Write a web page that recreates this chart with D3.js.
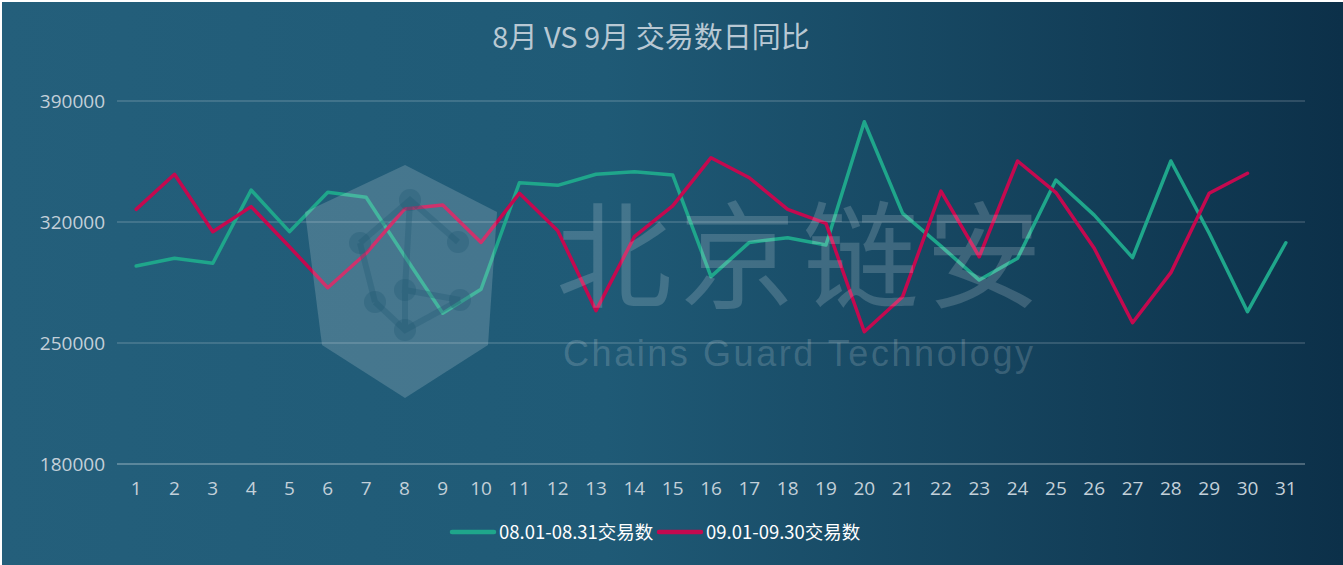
<!DOCTYPE html>
<html><head><meta charset="utf-8">
<script src="https://cdn.jsdelivr.net/npm/d3@7"></script>
<style>
html,body{margin:0;padding:0;background:#fff;overflow:hidden}
svg{position:absolute;left:2px;top:2px}
</style></head>
<body>
<script>
const title = "8月 VS 9月 交易数日同比";
const days = d3.range(1, 32).map(String);
const seriesNames = ["08.01-08.31交易数", "09.01-09.30交易数"];
const augValues = [294500,299000,296100,338500,314400,337200,334300,300500,267200,281100,
  342700,341200,347600,349100,347200,288400,308200,310900,306700,378000,
  325000,306000,286400,299000,344300,324000,299400,355300,313500,268100,308000];
const sepValues = [327300,347600,314400,328900,305700,282000,301900,327500,329800,308200,
  336600,315000,268700,311500,329300,357200,345600,327300,319200,256500,
  276800,337900,299900,355300,337000,304800,261700,290700,336600,348200];
const yTicks = [180000,250000,320000,390000];
const colors = ["#1fa68b", "#c4094f"];

const W = 1341, H = 563;
const svg = d3.select("body").append("svg").attr("width", W).attr("height", H);
const defs = svg.append("defs");
const grad = defs.append("linearGradient").attr("id","bg").attr("x1","0").attr("x2","1").attr("y1","0").attr("y2","0");
grad.append("stop").attr("offset","0%").attr("stop-color","#245f7b");
grad.append("stop").attr("offset","45%").attr("stop-color","#1f5a76");
grad.append("stop").attr("offset","100%").attr("stop-color","#0c3049");
svg.append("rect").attr("width",W).attr("height",H).attr("fill","url(#bg)");

const ox = -2, oy = -2;
const g = svg.append("g").attr("transform",`translate(${ox},${oy})`);

const x = d3.scaleBand().domain(days).range([117, 1305]);
const y = d3.scaleLinear().domain([180000, 390000]).range([464, 101]);

g.selectAll(".grid").data(yTicks).join("line")
  .attr("x1",117).attr("x2",1305)
  .attr("y1",d=>y(d)).attr("y2",d=>y(d))
  .attr("stroke", d => d===180000 ? "rgba(255,255,255,0.26)" : "rgba(255,255,255,0.14)")
  .attr("stroke-width", 2);

g.selectAll(".yl").data(yTicks).join("text")
  .attr("x",105).attr("y",d=>y(d)+6.5)
  .attr("text-anchor","end")
  .attr("font-family","Open Sans, sans-serif").attr("font-size",19)
  .attr("fill","#c3d0d9").text(d=>d);

g.selectAll(".xl").data(days).join("text")
  .attr("x",d=>x(d)+x.bandwidth()/2).attr("y",495)
  .attr("text-anchor","middle")
  .attr("font-family","Open Sans, sans-serif").attr("font-size",19)
  .attr("fill","#c3d0d9").text(d=>d);

const line = d3.line().x((d,i)=>x(days[i])+x.bandwidth()/2).y(d=>y(d));
[augValues, sepValues].forEach((vals,i)=>{
  g.append("path").datum(vals).attr("d",line)
    .attr("fill","none").attr("stroke",colors[i]).attr("stroke-width",3.5)
    .attr("stroke-linejoin","round").attr("stroke-linecap","round");
});

// watermark
const wm = g.append("g").attr("fill","#ffffff").attr("fill-opacity",0.17);
wm.append("path").attr("d","M305,212 L405,165 L497,212 L488,345 L405,398 L322,345 Z");
const holes = g.append("g").attr("fill","#1d5672").attr("fill-opacity",0.3).attr("stroke","#1d5672").attr("stroke-opacity",0.3);
[[360,243],[410,200],[458,242],[375,302],[405,290],[405,330],[460,300]].forEach(p=>{
  holes.append("circle").attr("cx",p[0]).attr("cy",p[1]).attr("r",11).attr("stroke","none");
});
holes.append("path").attr("fill","none").attr("stroke-width",6)
  .attr("d","M360,243 L410,200 L458,242 M410,200 L405,290 L460,300 M405,290 L405,330 M375,302 L405,330 L460,300 M360,243 L375,302");
wm.append("text").attr("x",556).attr("y",299).attr("font-family","Noto Sans CJK SC").attr("font-size",116)
  .attr("textLength",486).text("北京链安");
wm.append("text").attr("x",563).attr("y",366).attr("font-family","Liberation Sans, Arial").attr("font-size",36)
  .attr("textLength",470).text("Chains Guard Technology");

g.append("text").attr("x",651).attr("y",48).attr("text-anchor","middle")
  .attr("font-family","Noto Sans CJK SC, sans-serif").attr("font-size",29)
  .attr("fill","#b8c8d3").text(title);

const leg = g.append("g");
const legItems = [{x:452, name:seriesNames[0], c:colors[0]},{x:659, name:seriesNames[1], c:colors[1]}];
legItems.forEach(it=>{
  leg.append("line").attr("x1",it.x).attr("x2",it.x+42).attr("y1",532).attr("y2",532)
    .attr("stroke",it.c).attr("stroke-width",4.5).attr("stroke-linecap","round");
  leg.append("text").attr("x",it.x+47).attr("y",539).attr("font-family","Noto Sans CJK SC, sans-serif")
    .attr("font-size",18.5).attr("fill","#ffffff").text(it.name);
});
</script>
</body></html>
